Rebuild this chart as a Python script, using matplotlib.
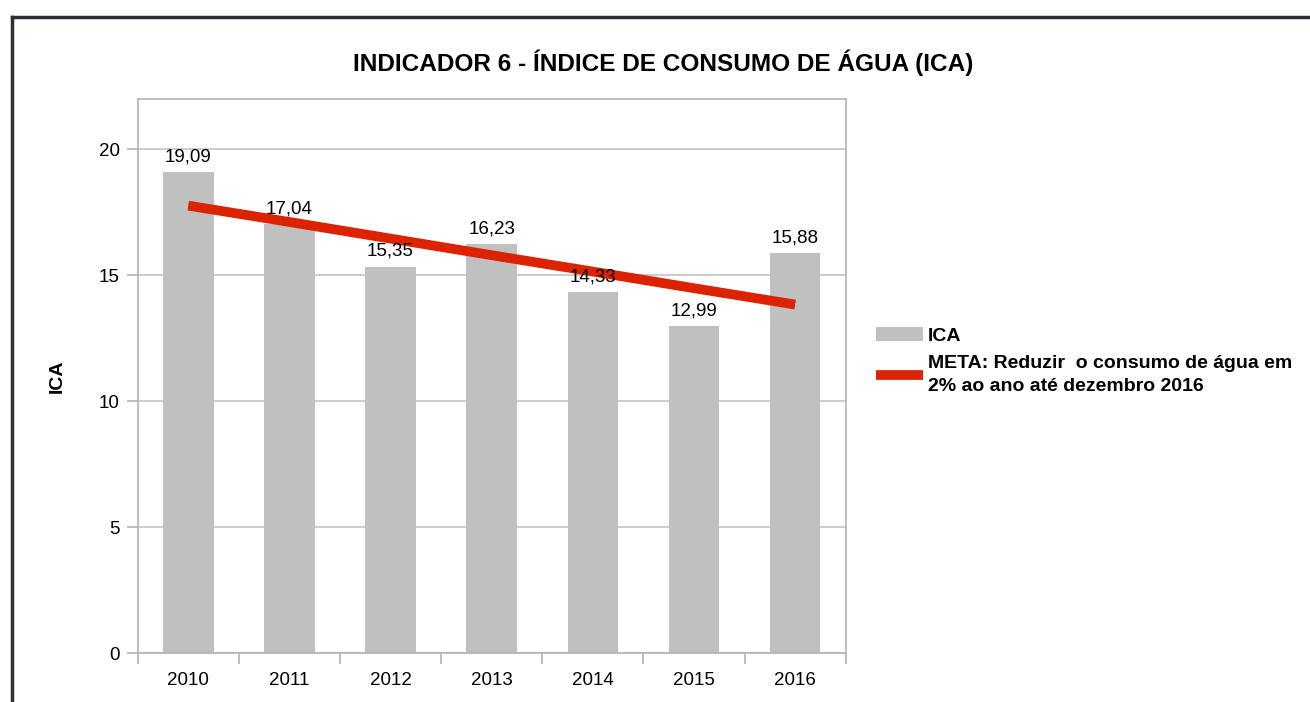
import matplotlib.pyplot as plt
from matplotlib.lines import Line2D

plt.rcParams['font.family'] = ['Liberation Sans', 'DejaVu Sans']

# data
anos = ['2010', '2011', '2012', '2013', '2014', '2015', '2016']
ica = [19.09, 17.04, 15.35, 16.23, 14.33, 12.99, 15.88]
rotulos = ['19,09', '17,04', '15,35', '16,23', '14,33', '12,99', '15,88']
meta = [17.77, 17.12, 16.46, 15.80, 15.15, 14.49, 13.84]

fig = plt.figure(figsize=(13.1, 7.02), dpi=100)
ax = fig.add_axes([0.1051, 0.0698, 0.5405, 0.789])

x = range(len(anos))
barras = ax.bar(x, ica, width=0.5, color='#c0c0c0', label='ICA', zorder=2)
linha, = ax.plot(x, meta, color='#dc2300', linewidth=7, solid_capstyle='butt', zorder=3,
                 label='META: Reduzir  o consumo de água em\n2% ao ano até dezembro 2016')

for i, v in enumerate(ica):
    ax.annotate(rotulos[i], (i, v), xytext=(0, 5), textcoords='offset points',
                ha='center', va='bottom', fontsize=13.5, zorder=4)

ax.set_xlim(-0.5, len(anos) - 0.5)
ax.set_ylim(0, 22)
ax.set_yticks([0, 5, 10, 15, 20])
ax.set_xticks(x)
ax.set_xticklabels(anos)
ax.set_xticks([i - 0.5 for i in range(len(anos) + 1)], minor=True)
ax.tick_params(axis='x', which='major', length=0, labelsize=13.5, pad=14)
ax.tick_params(axis='x', which='minor', length=8, color='#b3b3b3', width=1.2)
ax.tick_params(axis='y', length=8, color='#b3b3b3', width=1.2, labelsize=13.5, pad=5)
ax.grid(axis='y', color='#c8c8c8', linewidth=1.3, zorder=0)
ax.set_axisbelow(True)
for s in ax.spines.values():
    s.set_color('#b3b3b3')
    s.set_linewidth(1.2)

ax.set_ylabel('ICA', fontsize=14, fontweight='bold', labelpad=24)

fig.suptitle('INDICADOR 6 - ÍNDICE DE CONSUMO DE ÁGUA (ICA)', x=0.506, y=0.93,
             fontsize=17.6, fontweight='bold')

leg = fig.legend([barras, linha], [barras.get_label(), linha.get_label()],
                 loc='upper left', bbox_to_anchor=(0.663, 0.545), frameon=False,
                 prop={'weight': 'bold', 'size': 14}, handlelength=2.4,
                 handletextpad=0.25, labelspacing=0.55, borderaxespad=0)
for t in leg.get_texts():
    t.set_linespacing(1.45)

# outer frame (top and left edges visible)
fig.add_artist(Line2D([12 / 1310, 12 / 1310], [0, 1 - 17 / 702], color='#2b3038',
                      linewidth=2.5, transform=fig.transFigure))
fig.add_artist(Line2D([12 / 1310, 1], [1 - 17 / 702, 1 - 17 / 702], color='#2b3038',
                      linewidth=2.5, transform=fig.transFigure))

fig.savefig('out.png', dpi=100)
